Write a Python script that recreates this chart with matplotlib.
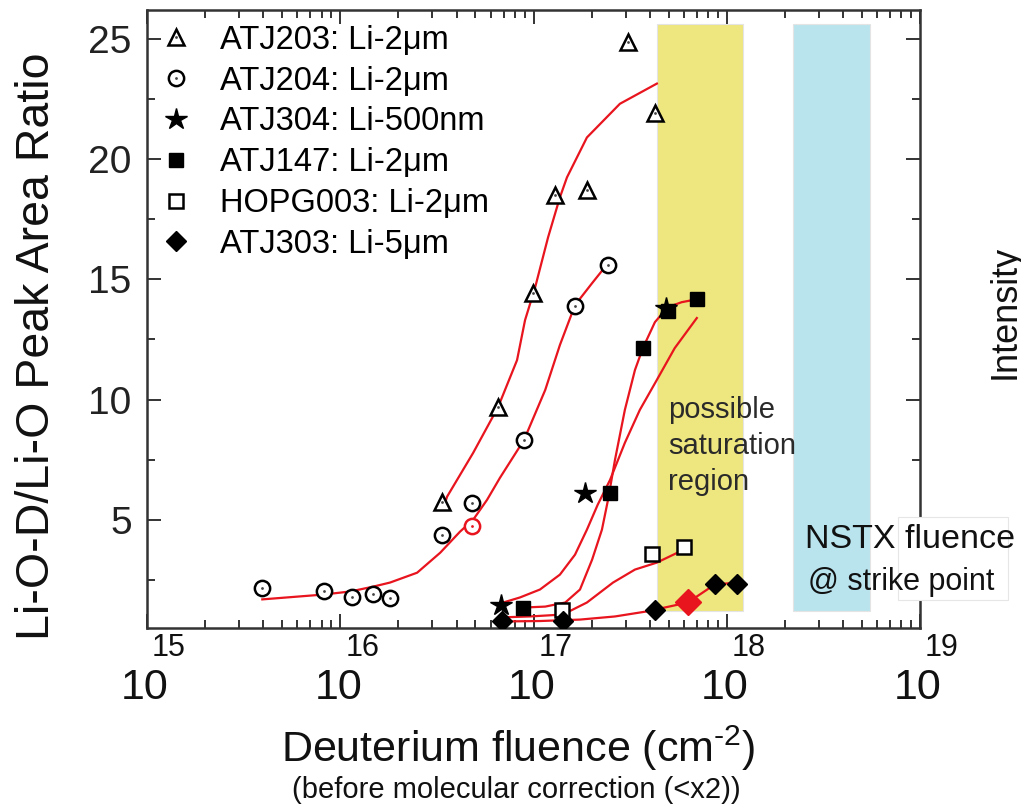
import numpy as np
import matplotlib
matplotlib.use('Agg')
import matplotlib.pyplot as plt
from matplotlib.ticker import LogLocator, NullFormatter, FixedLocator
from matplotlib.patches import Rectangle
from matplotlib.legend_handler import HandlerTuple

plt.rcParams['font.family'] = ['Liberation Sans', 'DejaVu Sans']
plt.rcParams['mathtext.fontset'] = 'custom'
plt.rcParams['mathtext.rm'] = 'Liberation Sans'

# measured points (fluence in cm^-2, Li-O-D/Li-O ratio)
atj203_x = [3.37e16, 6.56e16, 9.94e16, 1.29e17, 1.89e17, 3.08e17, 4.25e17]
atj203_y = [5.75, 9.7, 14.45, 18.5, 18.7, 24.85, 21.9]

atj204_x = [3.95e15, 8.2e15, 1.15e16, 1.48e16, 1.81e16, 3.37e16, 4.8e16, 8.9e16, 1.64e17, 2.43e17]
atj204_y = [2.15, 2.05, 1.8, 1.9, 1.75, 4.35, 5.7, 8.3, 13.9, 15.6]
atj204_red_x = [4.8e16]
atj204_red_y = [4.75]

atj304_x = [6.79e16, 1.85e17, 4.84e17]
atj304_y = [1.44, 6.12, 13.8]

atj147_x = [8.83e16, 2.49e17, 3.68e17, 4.95e17, 7.0e17]
atj147_y = [1.35, 6.12, 12.14, 13.7, 14.17]

hopg003_x = [1.40e17, 4.10e17, 6.0e17]
hopg003_y = [1.23, 3.59, 3.88]

atj303_x = [6.87e16, 1.42e17, 4.25e17, 8.67e17, 1.13e18]
atj303_y = [0.81, 0.81, 1.23, 2.35, 2.35]
atj303_red_x = [6.29e17]
atj303_red_y = [1.60]

# fitted curves
fit203_x = [3.49e16, 3.57e16, 4.87e16, 6.56e16, 8.22e16, 9.04e16, 1.02e17, 1.19e17,
            1.37e17, 1.49e17, 1.89e17, 2.80e17, 4.35e17]
fit203_y = [5.71, 5.96, 7.78, 9.69, 11.64, 13.3, 14.67, 16.75, 18.41, 19.24, 20.9, 22.3, 23.14]

fit204_x = [3.95e15, 8.17e15, 1.13e16, 1.48e16, 1.81e16, 2.50e16, 3.29e16, 4.17e16, 4.87e16,
            5.75e16, 6.71e16, 8.93e16, 1.15e17, 1.37e17, 1.64e17, 2.01e17, 2.43e17]
fit204_y = [1.69, 1.89, 2.02, 2.22, 2.39, 2.80, 3.63, 4.51, 5.0, 5.83, 6.75, 8.32, 10.4,
            12.27, 13.93, 14.84, 15.67]

fit147_x = [8.83e16, 1.15e17, 1.46e17, 1.74e17, 2.01e17, 2.26e17, 2.43e17, 2.64e17, 2.97e17,
            3.35e17, 3.68e17, 4.25e17, 4.95e17, 5.85e17, 7.0e17]
fit147_y = [1.35, 1.39, 1.56, 2.1, 3.34, 4.59, 5.83, 7.49, 9.57, 11.23, 12.14, 13.22, 13.84,
            14.05, 14.17]

fit304_x = [6.71e16, 8.51e16, 1.08e17, 1.37e17, 1.64e17, 1.89e17, 2.15e17, 2.49e17, 2.97e17,
            3.55e17, 4.35e17, 5.38e17, 7.0e17]
fit304_y = [1.52, 1.77, 2.1, 2.72, 3.55, 4.59, 5.63, 6.66, 8.2, 9.57, 10.82, 12.14, 13.39]

fithopg_x = [6.71e16, 9.59e16, 1.42e17, 1.89e17, 2.58e17, 3.35e17, 4.35e17, 6.0e17]
fithopg_y = [0.94, 0.98, 1.06, 1.56, 2.39, 2.93, 3.22, 3.76]

fit303_x = [6.71e16, 1.08e17, 1.74e17, 2.64e17, 3.86e17, 6.29e17, 8.67e17, 1.13e18]
fit303_y = [0.77, 0.79, 0.85, 0.98, 1.19, 1.56, 2.31, 2.39]

sat_region = (4.35e17, 1.21e18)
nstx_region = (2.19e18, 5.48e18)
band_y = (1.19, 25.63)

exponents = [15, 16, 17, 18, 19]

fig = plt.figure(figsize=(10.21, 8.09), dpi=100)
ax = fig.add_axes([147 / 1021, 1 - 628 / 809, 773 / 1021, 618 / 809])

ax.add_patch(Rectangle((sat_region[0], band_y[0]), sat_region[1] - sat_region[0],
                       band_y[1] - band_y[0], facecolor='#eee67e', edgecolor='#e4e4e4',
                       lw=0.8, zorder=0.5))
ax.add_patch(Rectangle((nstx_region[0], band_y[0]), nstx_region[1] - nstx_region[0],
                       band_y[1] - band_y[0], facecolor='#b9e4ee', edgecolor='#e4e4e4',
                       lw=0.8, zorder=0.5))

red = '#e8141e'
for fx, fy in [(fit203_x, fit203_y), (fit204_x, fit204_y), (fit147_x, fit147_y),
               (fit304_x, fit304_y), (fithopg_x, fithopg_y), (fit303_x, fit303_y)]:
    ax.plot(fx, fy, color=red, lw=1.6, zorder=2, solid_joinstyle='round')

mk = dict(linestyle='none', zorder=3)
h203 = ax.plot(atj203_x, atj203_y, marker='^', ms=11, mfc='white', mec='black', mew=1.8, **mk)[0]
d203 = ax.plot(atj203_x, atj203_y, marker='o', ms=2, mfc='#444', mec='none', linestyle='none', zorder=4)[0]
h204 = ax.plot(atj204_x, atj204_y, marker='o', ms=11, mfc='white', mec='black', mew=1.8, **mk)[0]
d204 = ax.plot(atj204_x, atj204_y, marker='o', ms=2, mfc='#444', mec='none', linestyle='none', zorder=4)[0]
ax.plot(atj204_red_x, atj204_red_y, marker='o', ms=11, mfc='white', mec=red, mew=1.8, **mk)
ax.plot(atj204_red_x, atj204_red_y, marker='o', ms=2, mfc=red, mec='none', linestyle='none', zorder=4)
h304 = ax.plot(atj304_x, atj304_y, marker='*', ms=16, mfc='black', mec='black', **mk)[0]
h147 = ax.plot(atj147_x, atj147_y, marker='s', ms=10, mfc='black', mec='black', **mk)[0]
hhopg = ax.plot(hopg003_x, hopg003_y, marker='s', ms=10, mfc='white', mec='black', mew=1.8, **mk)[0]
h303 = ax.plot(atj303_x, atj303_y, marker='D', ms=10, mfc='black', mec='black', **mk)[0]
ax.plot(atj303_red_x, atj303_red_y, marker='D', ms=13, mfc=red, mec=red, **mk)

ax.legend([(h203, d203), (h204, d204), h304, h147, hhopg, h303],
          ['ATJ203: Li-2\u03bcm', 'ATJ204: Li-2\u03bcm', 'ATJ304: Li-500nm',
           'ATJ147: Li-2\u03bcm', 'HOPG003: Li-2\u03bcm', 'ATJ303: Li-5\u03bcm'],
          handler_map={tuple: HandlerTuple(ndivide=1)},
          loc='upper left', bbox_to_anchor=(0.0, 0.997), frameon=False, fontsize=23.5,
          handlelength=1.0, handletextpad=0.85, labelspacing=0.3, borderaxespad=0.3,
          borderpad=0.1)

ax.set_xscale('log')
ax.set_xlim(1e15, 1e19)
ax.set_ylim(0.5, 26.2)
ax.xaxis.set_major_locator(LogLocator(base=10, numticks=10))
ax.xaxis.set_minor_locator(LogLocator(base=10, subs=np.arange(2, 10), numticks=20))
ax.xaxis.set_major_formatter(NullFormatter())
ax.xaxis.set_minor_formatter(NullFormatter())
ax.set_yticks([5, 10, 15, 20, 25])
ax.yaxis.set_minor_locator(FixedLocator([2.5, 7.5, 12.5, 17.5, 22.5]))
ax.tick_params(which='both', direction='in', top=True, right=True, width=1.4, colors='#333')
ax.tick_params(which='major', length=10, labelsize=28, pad=11)
ax.tick_params(which='minor', length=6)
for lab in ax.get_yticklabels():
    lab.set_color('#222')
for s in ax.spines.values():
    s.set_linewidth(1.8)
    s.set_color('#333')

for e in exponents:
    ax.annotate('10', xy=(10.0 ** e, 0), xycoords=('data', 'axes fraction'),
                xytext=(-2, -60), textcoords='offset pixels', ha='center', va='center',
                fontsize=31, color='#111')
    ax.annotate(str(e), xy=(10.0 ** e, 0), xycoords=('data', 'axes fraction'),
                xytext=(22, -20), textcoords='offset pixels', ha='center', va='center',
                fontsize=22, color='#111')

ax.set_ylabel('Li-O-D/Li-O Peak Area Ratio', fontsize=33.5, color='#111')
ax.yaxis.set_label_coords(-0.114, 0.456)

fig.text(518 / 1021, 1 - 748 / 809, r'Deuterium fluence (cm$^{\text{-2}}$)',
         ha='center', va='center', fontsize=31, color='#111')
fig.text(516 / 1021, 1 - 790 / 809, '(before molecular correction (<x2))',
         ha='center', va='center', fontsize=21, color='#111')

fig.text(668 / 1021, 1 - 446 / 809, 'possible\nsaturation\nregion',
         fontsize=21, color='#2a2a2a', ha='left', va='center', linespacing=1.35)

fig.patches.append(Rectangle((898 / 1021, 1 - 600 / 809), 110 / 1021, 83 / 809,
                             transform=fig.transFigure, facecolor='white',
                             edgecolor='#e6e6e6', lw=0.8, zorder=5))
fig.text(805 / 1021, 1 - 540 / 809, 'NSTX fluence', fontsize=24.5, color='#111',
         ha='left', va='center', zorder=6)
fig.text(808 / 1021, 1 - 582 / 809, '@ strike point', fontsize=22, color='#111',
         ha='left', va='center', zorder=6)

fig.text(1005 / 1021, 1 - 312 / 809, 'Intensity', rotation=90, fontsize=26,
         color='#111', ha='center', va='center')

fig.savefig('out.png', dpi=100)
